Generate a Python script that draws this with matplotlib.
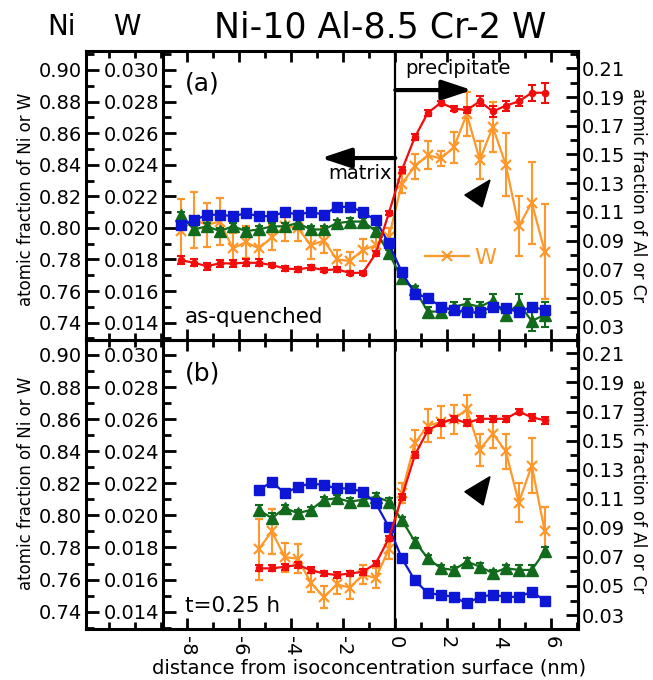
import matplotlib
matplotlib.use('Agg')
import matplotlib.pyplot as plt
from matplotlib.lines import Line2D
from matplotlib.patches import Polygon
from matplotlib.ticker import MultipleLocator, FixedLocator, FormatStrFormatter

plt.rcParams['font.family'] = 'DejaVu Sans'
plt.rcParams['axes.unicode_minus'] = False

# bin centres, distance from isoconcentration surface (nm)
dist_a = [-8.25, -7.75, -7.25, -6.75, -6.25, -5.75, -5.25, -4.75, -4.25, -3.75,
          -3.25, -2.75, -2.25, -1.75, -1.25, -0.75, -0.25,
          0.25, 0.75, 1.25, 1.75, 2.25, 2.75, 3.25, 3.75, 4.25, 4.75, 5.25, 5.75]
dist_b = [-5.25, -4.75, -4.25, -3.75, -3.25, -2.75, -2.25, -1.75, -1.25, -0.75, -0.25,
          0.25, 0.75, 1.25, 1.75, 2.25, 2.75, 3.25, 3.75, 4.25, 4.75, 5.25, 5.75]

# (a) as-quenched
ni_a = [0.808, 0.799, 0.801, 0.798, 0.801, 0.798, 0.799, 0.801, 0.801, 0.803,
        0.799, 0.799, 0.803, 0.804, 0.804, 0.798, 0.784,
        0.768, 0.761, 0.747, 0.747, 0.750, 0.752, 0.750, 0.754, 0.745, 0.752, 0.741, 0.745]
ni_a_err = [0.002] * 17 + [0.002, 0.002, 0.003, 0.002, 0.003, 0.003, 0.003, 0.004,
                           0.003, 0.006, 0.006, 0.008]
w_a = [0.0198, 0.0205, 0.0202, 0.0204, 0.0187, 0.0191, 0.0187, 0.0194, 0.0201, 0.0200,
       0.0189, 0.0192, 0.0180, 0.0179, 0.0186, 0.0189, 0.0194,
       0.0228, 0.0239, 0.0246, 0.0244, 0.0251, 0.0272, 0.0243, 0.0264, 0.0240, 0.0201,
       0.0216, 0.0185]
w_a_err = [0.0020, 0.0018, 0.0014, 0.0015, 0.0010, 0.0010, 0.0010, 0.0008, 0.0009, 0.0008,
           0.0009, 0.0008, 0.0006, 0.0006, 0.0007, 0.0006, 0.0006,
           0.0006, 0.0008, 0.0009, 0.0005, 0.0010, 0.0014, 0.0012, 0.0016, 0.0020, 0.0019,
           0.0026, 0.0030]
al_a = [0.0764, 0.0745, 0.0722, 0.0741, 0.0741, 0.0745, 0.0745, 0.0729, 0.0706, 0.0699,
        0.0713, 0.0694, 0.0699, 0.0675, 0.0675, 0.081, 0.109,
        0.139, 0.162, 0.179, 0.186, 0.182, 0.181, 0.187, 0.180, 0.184, 0.187, 0.193, 0.193]
al_a_err = [0.0025] * 7 + [0.0015] * 10 + [0.002, 0.002, 0.002, 0.0015, 0.0015, 0.002,
                                           0.0035, 0.004, 0.0035, 0.0035, 0.0055, 0.007]
cr_a = [0.101, 0.104, 0.108, 0.108, 0.107, 0.109, 0.107, 0.107, 0.110, 0.108,
        0.110, 0.108, 0.1135, 0.1135, 0.110, 0.104, 0.088,
        0.068, 0.053, 0.050, 0.044, 0.0415, 0.040, 0.040, 0.044, 0.043, 0.040, 0.044, 0.0415]
cr_a_err = [0.0015] * 29

# (b) t=0.25 h
ni_b = [0.8034, 0.7983, 0.8045, 0.8014, 0.8034, 0.8097, 0.8107, 0.8086, 0.8097, 0.8117, 0.8086,
        0.7972, 0.7837, 0.7733, 0.7671, 0.7660, 0.7712, 0.7681, 0.7640, 0.7671, 0.7660,
        0.7660, 0.7775]
ni_b_err = [0.003, 0.003, 0.002, 0.002, 0.002, 0.002, 0.002, 0.002, 0.002, 0.002, 0.002,
            0.002, 0.002, 0.002, 0.002, 0.002, 0.002, 0.002, 0.002, 0.002, 0.003, 0.003, 0.003]
w_b = [0.0179, 0.0190, 0.0174, 0.0173, 0.0158, 0.0149, 0.0157, 0.0155, 0.0163, 0.0161, 0.0179,
       0.0214, 0.0245, 0.0256, 0.0258, 0.0260, 0.0266, 0.0241, 0.0251, 0.0240, 0.0208,
       0.0231, 0.0190]
w_b_err = [0.0019, 0.0014, 0.0009, 0.0009, 0.0006, 0.0007, 0.0006, 0.0007, 0.0006, 0.0006, 0.0006,
           0.0006, 0.0008, 0.0010, 0.0010, 0.0009, 0.0009, 0.0010, 0.0009, 0.0011, 0.0012,
           0.0017, 0.0015]
al_b = [0.0621, 0.0621, 0.0632, 0.0644, 0.0609, 0.0586, 0.0575, 0.0586, 0.0597, 0.0655, 0.0827,
        0.111, 0.140, 0.157, 0.162, 0.165, 0.162, 0.165, 0.165, 0.165, 0.170, 0.166, 0.164]
al_b_err = [0.002] * 11 + [0.002, 0.002, 0.002, 0.002, 0.002, 0.002, 0.002, 0.002, 0.002,
                           0.002, 0.0025, 0.0025]
cr_b = [0.116, 0.1217, 0.1137, 0.1182, 0.1206, 0.1194, 0.1171, 0.1171, 0.1148, 0.1068, 0.0907,
        0.069, 0.054, 0.045, 0.044, 0.0425, 0.038, 0.0425, 0.044, 0.0425, 0.0425, 0.046, 0.040]
cr_b_err = [0.002] * 23

x_ticks = [-8, -6, -4, -2, 0, 2, 4, 6]
ni_ticks = [0.74, 0.76, 0.78, 0.80, 0.82, 0.84, 0.86, 0.88, 0.90]
w_ticks = [0.014, 0.016, 0.018, 0.020, 0.022, 0.024, 0.026, 0.028, 0.030]
alcr_ticks = [0.03, 0.05, 0.07, 0.09, 0.11, 0.13, 0.15, 0.17, 0.19, 0.21]

c_ni = '#126b1c'
c_w = '#ff982c'
c_al = '#f20c0c'
c_cr = '#0c16d4'

fig = plt.figure(figsize=(6.53, 6.8), dpi=100)


def draw_panel(rect, dist, ni, ni_err, w, w_err, al, al_err, cr, cr_err,
               ni_lim, alcr_lim, tag, note, bottom):
    ax = fig.add_axes(rect)
    axw = ax.twinx()
    axr = ax.twinx()
    axw.set_zorder(1)
    ax.set_zorder(2)
    axr.set_zorder(3)
    ax.patch.set_visible(False)

    for a in (ax, axw, axr):
        a.set_xlim(-11.9, 7.03)
        for s in a.spines.values():
            s.set_linewidth(2.2)
    for s in ('top', 'bottom', 'right'):
        axw.spines[s].set_visible(False)
    for s in ('top', 'bottom', 'left'):
        axr.spines[s].set_visible(False)
    axw.spines['left'].set_position(('axes', 0.1565))
    axw.yaxis.set_ticks_position('left')

    kw = dict(capsize=3, elinewidth=1.5, capthick=1.5, lw=1.6)
    axw.errorbar(dist, w, yerr=w_err, color=c_w, marker='x', ms=7, mew=1.6, **kw)
    ax.errorbar(dist, ni, yerr=ni_err, color=c_ni, marker='^', ms=8.5, **kw)
    axr.errorbar(dist, cr, yerr=cr_err, color=c_cr, marker='s', ms=7, **kw)
    axr.errorbar(dist, al, yerr=al_err, color=c_al, marker='o', ms=4.5, **kw)

    ax.axvline(0, color='k', lw=1.6, zorder=1)

    # Ni axis (outer left) and W axis (inner left)
    ax.set_ylim(ni_lim)
    axw.set_ylim(ni_lim[0] / 10 - 0.06, ni_lim[1] / 10 - 0.06)
    axr.set_ylim(alcr_lim)
    for a, ticks, fmt, step in ((ax, ni_ticks, '%.2f', 0.01), (axw, w_ticks, '%.3f', 0.001),
                                (axr, alcr_ticks, '%.2f', 0.01)):
        a.yaxis.set_major_locator(FixedLocator(ticks))
        a.yaxis.set_minor_locator(MultipleLocator(step))
        a.yaxis.set_major_formatter(FormatStrFormatter(fmt))
        a.tick_params(axis='y', which='both', direction='in', width=2, labelsize=14, pad=3)
        a.tick_params(axis='y', which='major', length=9)
        a.tick_params(axis='y', which='minor', length=6)

    ax.xaxis.set_major_locator(FixedLocator(x_ticks))
    ax.xaxis.set_minor_locator(MultipleLocator(1))
    ax.tick_params(axis='x', which='both', direction='in', top=True, bottom=True, width=2)
    ax.tick_params(axis='x', which='major', length=8, labelsize=14, labelrotation=-90, pad=5)
    ax.tick_params(axis='x', which='minor', length=5)
    if not bottom:
        ax.tick_params(axis='x', labelbottom=False)

    ax.text(0.201, 0.885, tag, transform=ax.transAxes, fontsize=18, va='center')
    ax.text(0.201, 0.08, note, transform=ax.transAxes, fontsize=15.5, va='center')
    return ax, axw, axr


ax_a, axw_a, axr_a = draw_panel([0.1317, 0.5, 0.7535, 0.4254], dist_a, ni_a, ni_a_err, w_a, w_a_err,
                                al_a, al_a_err, cr_a, cr_a_err, (0.729, 0.9122), (0.0207, 0.2223),
                                '(a)', 'as-quenched', False)
ax_b, axw_b, axr_b = draw_panel([0.1317, 0.075, 0.7535, 0.425], dist_b, ni_b, ni_b_err, w_b, w_b_err,
                                al_b, al_b_err, cr_b, cr_b_err, (0.7292, 0.9093), (0.0204, 0.2192),
                                '(b)', 't=0.25 h', True)

# matrix / precipitate arrows
tr = ax_a.get_xaxis_transform()
arrow = dict(arrowstyle='-|>,head_length=0.9,head_width=0.3', lw=3, color='k',
             shrinkA=0, shrinkB=0, mutation_scale=20)
ax_a.annotate('', xy=(2.95, 0.864), xytext=(0, 0.864), xycoords=tr, textcoords=tr,
              arrowprops=arrow)
ax_a.annotate('', xy=(-2.85, 0.629), xytext=(0, 0.629), xycoords=tr, textcoords=tr,
              arrowprops=arrow)
ax_a.text(0.37, 0.94, 'precipitate', transform=tr, fontsize=14, va='center', ha='left')
ax_a.text(-0.15, 0.574, 'matrix', transform=tr, fontsize=14, va='center', ha='right')

# black pointer heads
ax_a.add_patch(Polygon([(0.770, 0.501), (0.821, 0.553), (0.805, 0.460)], closed=True,
                       transform=ax_a.transAxes, color='k', zorder=5))
ax_b.add_patch(Polygon([(0.770, 0.475), (0.821, 0.527), (0.807, 0.429)], closed=True,
                       transform=ax_b.transAxes, color='k', zorder=5))

# W legend
w_handle = Line2D([], [], color=c_w, marker='x', ms=7, mew=1.6, lw=1.6)
leg = axw_a.legend([w_handle], ['W'], loc='center left', bbox_to_anchor=(0.689, 0.283),
                   frameon=False, fontsize=16, handlelength=2.0, handletextpad=0.2,
                   borderpad=0, borderaxespad=0)
for t in leg.get_texts():
    t.set_color(c_w)

# labels
fig.text(26 / 653, 1 - 199 / 680, 'atomic fraction of Ni or W', rotation=90,
         fontsize=12, ha='center', va='center')
fig.text(26 / 653, 1 - 483 / 680, 'atomic fraction of Ni or W', rotation=90,
         fontsize=12, ha='center', va='center')
fig.text(638 / 653, 1 - 195 / 680, 'atomic fraction of Al or Cr', rotation=270,
         fontsize=12, ha='center', va='center')
fig.text(638 / 653, 1 - 486 / 680, 'atomic fraction of Al or Cr', rotation=270,
         fontsize=12, ha='center', va='center')
fig.text(369 / 653, 1 - 668 / 680, 'distance from isoconcentration surface (nm)',
         fontsize=14, ha='center', va='center')
fig.text(62 / 653, 1 - 27 / 680, 'Ni', fontsize=20, ha='center', va='center')
fig.text(127 / 653, 1 - 27 / 680, 'W', fontsize=20, ha='center', va='center')
fig.text(380 / 653, 1 - 27 / 680, 'Ni-10 Al-8.5 Cr-2 W', fontsize=25, ha='center', va='center')

fig.savefig('out.png', dpi=100)
